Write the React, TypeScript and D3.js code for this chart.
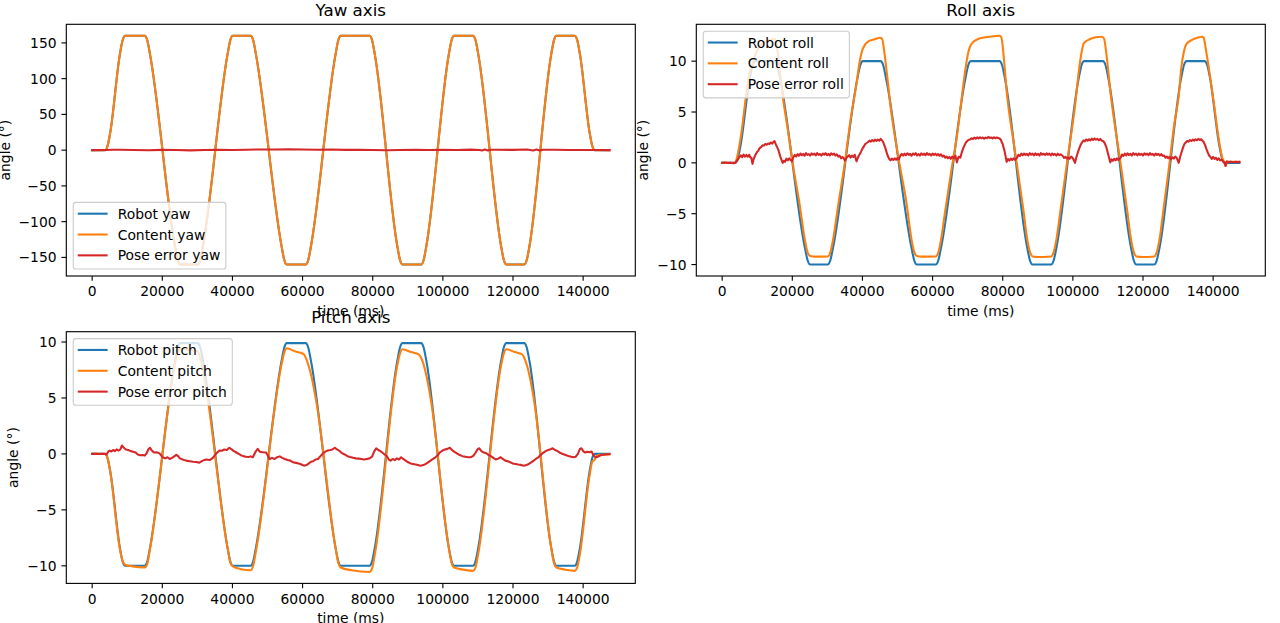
import React from 'react';
import * as d3 from 'd3';

type Pt = [number, number];

// ---------- tick labels ----------
const xTicks = [0, 20000, 40000, 60000, 80000, 100000, 120000, 140000];
const yawTicks = [-150, -100, -50, 0, 50, 100, 150];
const rollTicks = [-10, -5, 0, 5, 10];
const pitchTicks = [-10, -5, 0, 5, 10];

// ---------- series names ----------
const yawLabels = ['Robot yaw', 'Content yaw', 'Pose error yaw'];
const rollLabels = ['Robot roll', 'Content roll', 'Pose error roll'];
const pitchLabels = ['Robot pitch', 'Content pitch', 'Pose error pitch'];
const titles = ['Yaw axis', 'Roll axis', 'Pitch axis'];
const xLabel = 'time (ms)';
const yLabel = 'angle (°)';

// ---------- yaw ----------
const yawRobot: Pt[] = [
  [0, 0], [3700, 0], [4400, 6], [5200, 26], [7900, 134], [8700, 154], [9400, 160],
  [15000, 160], [15700, 154], [16500, 134], [23600, -134], [24400, -154], [25100, -160],
  [30100, -160], [30800, -154], [31600, -134], [38600, 134], [39400, 154], [40100, 160],
  [45200, 160], [45900, 154], [46700, 134], [54000, -134], [54800, -154], [55500, -160],
  [60900, -160], [61600, -154], [62400, -134], [69400, 134], [70200, 154], [70900, 160],
  [79100, 160], [79800, 154], [80600, 134], [87000, -134], [87800, -154], [88500, -160],
  [93800, -160], [94500, -154], [95300, -134], [101700, 134], [102500, 154], [103200, 160],
  [108600, 160], [109300, 154], [110100, 134], [116600, -134], [117400, -154], [118100, -160],
  [123200, -160], [123900, -154], [124700, -134], [130900, 134], [131700, 154], [132400, 160],
  [137600, 160], [138300, 154], [139100, 134], [141800, 26], [142600, 6], [143300, 0],
  [147500, 0],
];
const yawContent: Pt[] = [
  [0, 0], [3700, 0], [4400, 6], [5200, 26], [7900, 134], [8700, 154], [9400, 160],
  [15000, 160], [15700, 154], [16500, 134], [23600, -134], [24400, -154], [25100, -160],
  [30100, -160], [30800, -154], [31600, -134], [38600, 134], [39400, 154], [40100, 160],
  [45200, 160], [45900, 154], [46700, 134], [54000, -134], [54800, -154], [55500, -160],
  [60900, -160], [61600, -154], [62400, -134], [69400, 134], [70200, 154], [70900, 160],
  [79100, 160], [79800, 154], [80600, 134], [87000, -134], [87800, -154], [88500, -160],
  [93800, -160], [94500, -154], [95300, -134], [101700, 134], [102500, 154], [103200, 160],
  [108600, 160], [109300, 154], [110100, 134], [116600, -134], [117400, -154], [118100, -160],
  [123200, -160], [123900, -154], [124700, -134], [130900, 134], [131700, 154], [132400, 160],
  [137600, 160], [138300, 154], [139100, 134], [141800, 26], [142600, 6], [143300, 0],
  [147500, 0],
];
const yawError: Pt[] = [
  [0, 0], [3700, 0.1], [6000, 0.5], [8000, 0.6], [12000, 0.3], [16000, -0.2], [20000, 0.4],
  [24000, 0.1], [28000, -0.3], [32000, 0.2], [36000, 0.5], [40000, 0.2], [44000, 0.6],
  [48000, 1.0], [52000, 0.8], [56000, 1.1], [60000, 0.9], [64000, 0.6], [68000, 0.8],
  [72000, 0.4], [76000, 0.6], [80000, 0.3], [84000, -0.2], [88000, 0.1], [92000, 0.4],
  [96000, 0.2], [100000, 0.5], [104000, 0.3], [108000, 0.7], [110500, 0.1], [111200, -0.6],
  [112000, 0.9], [112800, -0.5], [113600, 0.6], [116000, 0.5], [120000, 0.4], [124000, 0.9],
  [125800, -0.4], [126700, 0.8], [127600, -0.5], [128500, 0.6], [132000, 0.5], [136000, 0.3],
  [140000, 0.1], [144000, 0.2], [147500, 0.1],
];

// ---------- roll ----------
const rollRobot: Pt[] = [
  [0, 0], [3700, 0], [4400, 0.375], [5200, 1.625], [7900, 8.375], [8700, 9.625], [9400, 10],
  [15000, 10], [15700, 9.625], [16500, 8.375], [23600, -8.375], [24400, -9.625], [25100, -10],
  [30100, -10], [30800, -9.625], [31600, -8.375], [38600, 8.375], [39400, 9.625], [40100, 10],
  [45200, 10], [45900, 9.625], [46700, 8.375], [54000, -8.375], [54800, -9.625], [55500, -10],
  [60900, -10], [61600, -9.625], [62400, -8.375], [69400, 8.375], [70200, 9.625], [70900, 10],
  [79100, 10], [79800, 9.625], [80600, 8.375], [87000, -8.375], [87800, -9.625], [88500, -10],
  [93800, -10], [94500, -9.625], [95300, -8.375], [101700, 8.375], [102500, 9.625], [103200, 10],
  [108600, 10], [109300, 9.625], [110100, 8.375], [116600, -8.375], [117400, -9.625], [118100, -10],
  [123200, -10], [123900, -9.625], [124700, -8.375], [130900, 8.375], [131700, 9.625], [132400, 10],
  [137600, 10], [138300, 9.625], [139100, 8.375], [141800, 1.625], [142600, 0.375], [143300, 0],
  [147500, 0],
];
const rollContent: Pt[] = [
  [0, 0], [3700, 0.02], [4400, 0.8], [5200, 2.3], [7900, 9.0], [8700, 9.7], [9400, 10.6],
  [10300, 11.3], [11700, 11.8], [13300, 12.05], [14900, 12.2],
  [15500, 11.7], [16300, 9.4], [17260, 6.6], [18700, 3.3], [20200, -0.25], [22000, -3.9],
  [23600, -7.6], [24400, -8.85], [25100, -9.15], [26500, -9.22], [30100, -9.2],
  [30800, -8.85], [31600, -7.6], [33000, -4.37], [35000, 0.06], [36600, 4.2], [38300, 7.8],
  [39140, 9.8], [40080, 11.2], [41500, 11.9], [43500, 12.15], [45000, 12.3],
  [45600, 12.2], [46200, 11.0], [47000, 8.7], [48000, 5.6], [50370, 0.3], [52500, -3.8],
  [54000, -7.55], [54800, -8.8], [55500, -9.15], [57000, -9.22], [60900, -9.2],
  [61600, -8.85], [62400, -7.6], [63400, -5.2], [65600, -0.2], [66900, 2.5], [68100, 5.8],
  [69400, 9.3], [70200, 10.9], [70900, 11.6], [72500, 12.1], [75000, 12.35], [77500, 12.45], [79100, 12.5],
  [79600, 12.35], [80300, 10.4], [81100, 7.15], [83300, 1.6], [84070, -0.2], [86000, -4.9],
  [87000, -7.55], [87800, -8.8], [88500, -9.2], [90000, -9.25], [93800, -9.2],
  [94500, -8.8], [95300, -7.55], [96500, -4.6], [98400, 0.2], [100620, 5.6], [101700, 9.0],
  [102500, 10.9], [103200, 11.8], [104800, 12.15], [106500, 12.35], [108300, 12.4],
  [108900, 12.2], [109600, 10.6], [110700, 7.0], [113500, 0.2], [115500, -4.7], [116600, -7.55],
  [117400, -8.8], [118100, -9.2], [120000, -9.25], [123200, -9.2],
  [123900, -8.8], [124700, -7.55], [126000, -4.15], [127300, -0.75], [129000, 4.0], [130200, 6.6],
  [130900, 9.3], [131700, 11.0], [132400, 11.7], [134000, 12.1], [135500, 12.3], [136800, 12.4],
  [137300, 12.3], [138000, 11.0], [139000, 8.8], [140200, 5.9], [141800, 1.9], [142600, 0.5],
  [143300, 0.0], [143550, -0.3], [144000, 0.1], [147500, 0.1],
];
const rollError: Pt[] = [
  [0, 0], [800, 0.03], [1600, -0.02], [2400, 0.02], [3200, -0.03], [3700, 0.02], [4200, 0.2],
  [4600, 0.42], [5000, 0.6], [5300, 0.75], [5700, 0.55], [6100, 0.82], [6500, 0.62], [6900, 0.78],
  [7300, 0.6], [7700, 0.8], [8000, 0.55], [8300, 0.5], [8650, -0.1], [9000, 0.4], [9500, 0.8],
  [9900, 1.05], [10300, 1.2], [10700, 1.45], [11100, 1.55], [11500, 1.72], [11900, 1.7],
  [12300, 1.85], [12700, 1.78], [13100, 1.9], [13500, 1.85], [13900, 2.0], [14300, 1.9],
  [14600, 2.05], [14900, 2.15], [15400, 1.75], [16000, 1.3], [16600, 0.6], [17260, 0.0],
  [17600, 0.2], [17900, 0.1], [18300, 0.42], [18700, 0.25], [19100, 0.45], [19500, 0.28],
  [19900, 0.15], [20300, 0.55], [20700, 0.78], [21100, 0.62], [21500, 0.85], [21900, 0.7],
  [22300, 0.92], [22700, 0.75], [23100, 0.88], [23500, 0.7], [23900, 0.95], [24300, 0.78],
  [24700, 0.86], [25100, 0.72], [25500, 0.93], [25900, 0.8], [26300, 0.9], [26700, 0.74],
  [27100, 0.96], [27500, 0.79], [27900, 0.87], [28300, 0.72], [28700, 0.92], [29100, 0.8],
  [29500, 0.95], [29900, 0.76], [30300, 0.88], [30700, 0.73], [31100, 0.94], [31500, 0.8],
  [31900, 0.9], [32300, 0.72], [32700, 0.84], [33100, 0.62], [33500, 0.7], [33900, 0.45],
  [34300, 0.58], [34700, 0.42], [35000, 0.22], [35400, 0.48], [35800, 0.62], [36200, 0.76],
  [36600, 0.52], [37000, 0.72], [37400, 0.58], [37800, 0.8], [38300, 0.15], [38800, 0.6],
  [39200, 0.85], [39600, 1.1], [40000, 1.4], [40400, 1.62], [40800, 1.85], [41200, 1.95],
  [41600, 2.05], [42000, 2.18], [42400, 2.08], [42800, 2.25], [43200, 2.12], [43600, 2.28],
  [44000, 2.16], [44400, 2.3], [44800, 2.18], [45200, 2.35], [45600, 2.2], [45900, 2.05],
  [46500, 1.5], [47100, 0.8], [47600, 0.4], [48000, 0.25], [48400, 0.42], [48800, 0.28],
  [49200, 0.45], [49600, 0.3], [50000, 0.48], [50370, 0.35], [50800, 0.7], [51200, 0.88],
  [51600, 0.72], [52000, 0.9], [52400, 0.75], [52800, 0.94], [53200, 0.78], [53600, 0.88],
  [54000, 0.7], [54400, 0.92], [54800, 0.8], [55200, 0.95], [55600, 0.74], [56000, 0.86],
  [56400, 0.72], [56800, 0.93], [57200, 0.79], [57600, 0.9], [58000, 0.75], [58400, 0.96],
  [58800, 0.8], [59200, 0.88], [59600, 0.72], [60000, 0.92], [60400, 0.78], [60800, 0.9],
  [61200, 0.74], [61600, 0.86], [62000, 0.7], [62400, 0.84], [62800, 0.62], [63200, 0.72],
  [63600, 0.5], [64000, 0.62], [64400, 0.45], [64800, 0.58], [65200, 0.4], [65600, 0.62],
  [66000, 0.45], [66500, 0.72], [66920, 0.05], [67400, 0.6], [67900, 0.5], [68300, 1.0],
  [68700, 1.4], [69100, 1.72], [69500, 2.0], [69900, 2.15], [70300, 2.28], [70700, 2.3],
  [71100, 2.42], [71500, 2.35], [71900, 2.48], [72300, 2.38], [72700, 2.5], [73100, 2.4],
  [73500, 2.52], [73900, 2.42], [74300, 2.5], [74700, 2.38], [75100, 2.48], [75500, 2.42],
  [75900, 2.55], [76300, 2.44], [76700, 2.5], [77100, 2.4], [77500, 2.52], [77900, 2.42],
  [78300, 2.5], [78700, 2.45], [79100, 2.4], [79400, 2.3], [79930, 1.9], [80500, 1.2],
  [81110, 0.1], [81500, 0.38], [81900, 0.22], [82300, 0.42], [82700, 0.28], [83100, 0.45],
  [83500, 0.3], [84070, 0.5], [84500, 0.8], [84900, 0.68], [85300, 0.9], [85700, 0.75],
  [86100, 0.92], [86500, 0.78], [86900, 0.88], [87300, 0.72], [87700, 0.95], [88100, 0.8],
  [88500, 0.9], [88900, 0.74], [89300, 0.93], [89700, 0.78], [90100, 0.88], [90500, 0.72],
  [90900, 0.96], [91300, 0.8], [91700, 0.9], [92100, 0.76], [92500, 0.94], [92900, 0.8],
  [93300, 0.9], [93700, 0.74], [94100, 0.92], [94500, 0.78], [94900, 0.88], [95300, 0.72],
  [95700, 0.9], [96100, 0.76], [96500, 0.84], [97070, 0.7], [97500, 0.48], [97900, 0.6],
  [98300, 0.42], [98700, 0.55], [99100, 0.4], [99500, 0.62], [100000, 0.45], [100620, 0.0],
  [101000, 0.55], [101400, 1.0], [101800, 1.4], [102200, 1.75], [102600, 2.0], [103000, 2.2],
  [103400, 2.12], [103800, 2.3], [104200, 2.18], [104600, 2.32], [105000, 2.2], [105400, 2.38],
  [105800, 2.25], [106200, 2.4], [106600, 2.28], [107000, 2.36], [107400, 2.22], [107800, 2.35],
  [108200, 2.2], [108600, 2.15], [109000, 2.0], [109500, 1.6], [110100, 0.8], [110670, 0.05],
  [111000, 0.35], [111400, 0.2], [111800, 0.4], [112200, 0.25], [112600, 0.45], [113000, 0.28],
  [113620, 0.5], [114000, 0.82], [114400, 0.68], [114800, 0.9], [115200, 0.74], [115600, 0.93],
  [116000, 0.78], [116400, 0.88], [116800, 0.72], [117200, 0.95], [117600, 0.8], [118000, 0.9],
  [118400, 0.74], [118800, 0.92], [119200, 0.78], [119600, 0.88], [120000, 0.72], [120400, 0.94],
  [120800, 0.8], [121200, 0.9], [121600, 0.75], [122000, 0.95], [122400, 0.8], [122800, 0.88],
  [123200, 0.72], [123600, 0.92], [124000, 0.78], [124400, 0.88], [124800, 0.72], [125200, 0.86],
  [125600, 0.68], [126040, 0.72], [126400, 0.5], [126800, 0.62], [127200, 0.45], [127600, 0.6],
  [128000, 0.35], [128400, 0.55], [128800, 0.42], [129200, 0.62], [129600, 0.5], [130180, 0.0],
  [130600, 0.6], [131000, 1.05], [131400, 1.5], [131800, 1.85], [132200, 2.0], [132600, 2.15],
  [133000, 2.08], [133400, 2.25], [133800, 2.15], [134200, 2.28], [134600, 2.18], [135000, 2.32],
  [135400, 2.22], [135800, 2.36], [136200, 2.25], [136600, 2.32], [136900, 2.2], [137300, 2.05],
  [137700, 1.75], [138100, 1.35], [138500, 1.0], [138900, 0.7], [139200, 0.6], [139600, 0.4],
  [140000, 0.58], [140400, 0.38], [140800, 0.5], [141200, 0.3], [141600, 0.45], [142000, 0.25],
  [142400, 0.32], [142800, 0.15], [143200, 0.05], [143540, -0.3], [143900, 0.15], [144400, 0.05],
  [145000, 0.12], [145700, 0.06], [146400, 0.1], [147000, 0.07], [147500, 0.1],
];

// ---------- pitch ----------
const pitchRobot: Pt[] = [
  [0, 0], [3700, 0], [4400, -0.375], [5200, -1.625], [7900, -8.375], [8700, -9.625], [9400, -10],
  [15000, -10], [15700, -9.625], [16500, -8.375], [23600, 8.3], [24400, 9.53], [25100, 9.9],
  [30100, 9.9], [30800, 9.53], [31600, 8.3], [38600, -8.375], [39400, -9.625], [40100, -10],
  [45200, -10], [45900, -9.625], [46700, -8.375], [54000, 8.3], [54800, 9.53], [55500, 9.9],
  [60900, 9.9], [61600, 9.53], [62400, 8.3], [69400, -8.375], [70200, -9.625], [70900, -10],
  [79100, -10], [79800, -9.625], [80600, -8.375], [87000, 8.3], [87800, 9.53], [88500, 9.9],
  [93800, 9.9], [94500, 9.53], [95300, 8.3], [101700, -8.375], [102500, -9.625], [103200, -10],
  [108600, -10], [109300, -9.625], [110100, -8.375], [116600, 8.3], [117400, 9.53], [118100, 9.9],
  [123200, 9.9], [123900, 9.53], [124700, 8.3], [130900, -8.375], [131700, -9.625], [132400, -10],
  [137600, -10], [138300, -9.625], [139100, -8.375], [141800, -1.625], [142600, -0.375], [143300, 0],
  [147500, 0],
];
const pitchContent: Pt[] = [
  [0, 0], [3700, 0], [4400, -0.4], [5200, -1.7], [7900, -8.5], [8700, -9.6], [9400, -9.9],
  [11500, -10.05], [15000, -10.15],
  [15700, -9.85], [16500, -8.5], [23600, 8.0], [24400, 9.1], [25100, 9.4], [27500, 9.3], [30100, 9.15],
  [30700, 8.7], [31600, 7.6], [32600, 5.7], [38600, -8.4], [39400, -9.7], [40100, -10.05],
  [42500, -10.3], [45200, -10.4],
  [45900, -10.0], [46700, -8.7], [54000, 8.0], [54800, 9.1], [55500, 9.45], [58000, 9.15],
  [60200, 8.95], [60900, 8.6],
  [61600, 8.0], [62400, 7.1], [63900, 4.7], [69400, -8.4], [70200, -9.75], [70900, -10.15],
  [74000, -10.4], [79100, -10.55],
  [79800, -10.25], [80600, -9.0], [87000, 7.9], [87800, 9.0], [88500, 9.35], [91000, 9.1],
  [93100, 8.9], [93800, 8.6],
  [94500, 8.0], [95300, 7.0], [96600, 4.8], [101700, -8.4], [102500, -9.75], [103200, -10.15],
  [106000, -10.35], [108600, -10.45],
  [109300, -10.15], [110100, -8.9], [116600, 7.9], [117400, 9.0], [118100, 9.35], [120500, 9.1],
  [122600, 8.9], [123200, 8.6],
  [123900, 8.0], [124700, 7.0], [126000, 4.8], [130900, -8.4], [131700, -9.75], [132400, -10.15],
  [135000, -10.35], [137600, -10.45],
  [138300, -10.15], [139100, -8.9], [141800, -2.0], [142600, -0.7], [143200, -0.55],
  [143800, -0.2], [144500, -0.1], [147500, -0.05],
];
const pitchError: Pt[] = [
  [0, 0], [1000, 0.02], [2000, -0.01], [3000, 0.02], [3700, 0.0], [4100, -0.05], [4600, 0.2],
  [5000, 0.3], [5500, 0.22], [6000, 0.35], [6500, 0.25], [7000, 0.4], [7500, 0.3], [8000, 0.38],
  [8500, 0.75], [8900, 0.6], [9600, 0.4], [10300, 0.35], [11000, 0.25], [11700, 0.2],
  [12400, 0.12], [13000, -0.05], [13700, -0.12], [14400, -0.1], [15000, -0.15], [15600, 0.1],
  [16100, 0.45], [16500, 0.55], [17000, 0.3], [17700, 0.12], [18400, 0.15], [19200, 0.05],
  [20100, -0.3], [20800, -0.4], [21500, -0.3], [22100, -0.45], [22800, -0.35], [23500, -0.2],
  [24000, -0.08], [24500, -0.2], [25000, -0.4], [25800, -0.5], [26800, -0.6], [27800, -0.65],
  [28800, -0.7], [29600, -0.72], [30600, -0.78], [31500, -0.6], [32500, -0.5], [33500, -0.55],
  [34400, -0.35], [35400, 0.05], [36300, 0.3], [37000, 0.28], [37700, 0.4], [38400, 0.35],
  [39100, 0.55], [39800, 0.4], [40400, 0.25], [41000, 0.15], [41800, 0.0], [42600, -0.15],
  [43300, -0.22], [43900, -0.25], [44600, -0.28], [45200, -0.22], [45800, -0.3], [46600, 0.2],
  [47200, 0.45], [47800, 0.2], [48600, 0.15], [49600, 0.12], [50200, -0.2], [50600, -0.45],
  [51300, -0.35], [52000, -0.45], [52700, -0.3], [53500, -0.22], [54200, -0.35], [54900, -0.45],
  [55700, -0.55], [56500, -0.6], [57300, -0.75], [58100, -0.8], [58900, -0.85], [59700, -0.95],
  [60400, -1.05], [61100, -1.0], [61800, -0.85], [62400, -0.7], [63000, -0.65], [63700, -0.5],
  [64400, -0.45], [65100, -0.2], [65800, 0.05], [66500, 0.2], [67200, 0.3], [67900, 0.35],
  [68500, 0.4], [69200, 0.55], [69800, 0.4], [70400, 0.3], [71100, 0.1], [72000, -0.05],
  [72800, -0.2], [73600, -0.28], [74400, -0.35], [75200, -0.4], [76000, -0.42], [76800, -0.45],
  [77500, -0.5], [78300, -0.45], [79100, -0.4], [79800, -0.25], [80400, 0.2], [81000, 0.5],
  [81600, 0.35], [82200, 0.25], [82800, 0.1], [83400, -0.05], [84000, -0.2], [84600, -0.5],
  [85100, -0.6], [85700, -0.45], [86300, -0.55], [86900, -0.4], [87500, -0.5], [88100, -0.3],
  [88700, -0.45], [89400, -0.6], [90100, -0.75], [90800, -0.85], [91500, -0.9], [92200, -0.95],
  [92900, -1.0], [93600, -1.05], [94400, -1.0], [95100, -0.9], [95800, -0.75], [96500, -0.6],
  [97200, -0.45], [97900, -0.3], [98600, -0.1], [99200, 0.15], [99900, 0.3], [100600, 0.4],
  [101300, 0.45], [102000, 0.55], [102600, 0.35], [103200, 0.2], [104000, 0.05], [104800, -0.1],
  [105600, -0.2], [106400, -0.25], [107200, -0.3], [107900, -0.3], [108600, -0.2], [109300, 0.1],
  [110000, 0.45], [110400, 0.5], [111000, 0.25], [111700, 0.12], [112400, 0.05], [113100, -0.1],
  [113700, -0.2], [114400, -0.35], [115100, -0.5], [115800, -0.42], [116500, -0.3], [117100, -0.45],
  [117800, -0.6], [118500, -0.65], [119200, -0.75], [119900, -0.85], [120700, -0.9], [121500, -0.95],
  [122300, -0.98], [123100, -1.05], [123800, -1.0], [124500, -0.9], [125200, -0.75], [125900, -0.6],
  [126500, -0.45], [127200, -0.3], [127900, -0.1], [128600, 0.1], [129300, 0.25], [130000, 0.35],
  [130700, 0.42], [131300, 0.5], [132000, 0.35], [132700, 0.25], [133400, 0.1], [134200, 0.0],
  [135000, -0.1], [135800, -0.18], [136600, -0.25], [137300, -0.3], [137900, -0.25], [138500, 0.0],
  [139100, 0.45], [139500, 0.5], [140000, 0.25], [140600, 0.12], [141200, 0.2], [141800, 0.15],
  [142400, 0.22], [143000, -0.15], [143600, -0.3], [144200, -0.25], [144800, -0.15], [145400, -0.1],
  [146200, -0.05], [147500, -0.02],
];

// ---------- styling / layout ----------
const COLORS = ['#1f77b4', '#ff7f0e', '#d62728'];
const FONT = "'DejaVu Sans', 'Liberation Sans', sans-serif";
const FS = 13.889;
const TITLE_FS = 16.667;
const LW = 2.083;
const SPINE_W = 1.111;
const TICK_LEN = 4.861;
const TICK_PAD = 4.861;
const LABEL_PAD = 5.556;
const MARGIN = 0.05;
const PANEL_W = 569;
const PANEL_H = 251.7;
const BOXES = [
  { left: 66.3, top: 24.3 },
  { left: 696.3, top: 24.3 },
  { left: 66.3, top: 331.7 },
];
const LEG = { pad: 6.944, border: 5.556, handle: 27.78, handlePad: 11.11, rowH: 13.889, spacing: 6.944 };

let ctx: CanvasRenderingContext2D | null = null;
function measure(s: string, size: number) {
  if (!ctx) ctx = document.createElement('canvas').getContext('2d');
  if (!ctx) return s.length * size * 0.6;
  ctx.font = `${size}px "DejaVu Sans"`;
  return ctx.measureText(s).width;
}
const fmt = (v: number) => (v < 0 ? '\u2212' + Math.abs(v) : String(v));

type PanelProps = {
  id: string;
  box: { left: number; top: number };
  title: string;
  series: Pt[][];
  labels: string[];
  yTicks: number[];
  legendLoc: 'upper left' | 'lower left';
};

function Panel({ id, box, title, series, labels, yTicks, legendLoc }: PanelProps) {
  const left = box.left, top = box.top;
  const right = left + PANEL_W, bottom = top + PANEL_H;
  const xs = series.flatMap((s) => s.map((p) => p[0]));
  const ys = series.flatMap((s) => s.map((p) => p[1]));
  const [xmin, xmax] = d3.extent(xs) as [number, number];
  const [ymin, ymax] = d3.extent(ys) as [number, number];
  const mx = (xmax - xmin) * MARGIN, my = (ymax - ymin) * MARGIN;
  const x = d3.scaleLinear().domain([xmin - mx, xmax + mx]).range([left, right]);
  const y = d3.scaleLinear().domain([ymin - my, ymax + my]).range([bottom, top]);
  const smooth = d3.line<Pt>().x((d) => x(d[0])).y((d) => y(d[1])).curve(d3.curveMonotoneX);
  const raw = d3.line<Pt>().x((d) => x(d[0])).y((d) => y(d[1]));

  const tickW = Math.max(...yTicks.map((v) => measure(fmt(v), FS)));
  const ylabelX = left - TICK_LEN - TICK_PAD - tickW - LABEL_PAD - 3.3;

  const legTextW = Math.max(...labels.map((l) => measure(l, FS)));
  const legW = LEG.border * 2 + LEG.handle + LEG.handlePad + legTextW;
  const legH = LEG.border * 2 + 3 * LEG.rowH + 2 * LEG.spacing;
  const legX = left + LEG.pad;
  const legY = legendLoc === 'upper left' ? top + LEG.pad : bottom - LEG.pad - legH;

  return (
    <g>
      <defs>
        <clipPath id={`clip-${id}`}>
          <rect x={left} y={top} width={PANEL_W} height={PANEL_H} />
        </clipPath>
      </defs>
      <g clipPath={`url(#clip-${id})`}>
        {series.map((s, i) => (
          <path
            key={i}
            d={(i === 2 ? raw : smooth)(s) || ''}
            fill="none"
            stroke={COLORS[i]}
            strokeWidth={LW}
            strokeLinejoin="round"
            strokeLinecap="square"
          />
        ))}
      </g>
      <rect x={left} y={top} width={PANEL_W} height={PANEL_H} fill="none" stroke="#000" strokeWidth={SPINE_W} />
      {xTicks.map((v) => (
        <g key={'x' + v}>
          <line x1={x(v)} x2={x(v)} y1={bottom} y2={bottom + TICK_LEN} stroke="#000" strokeWidth={SPINE_W} />
          <text x={x(v)} y={bottom + 20.3} textAnchor="middle" fontSize={FS}>{fmt(v)}</text>
        </g>
      ))}
      {yTicks.map((v) => (
        <g key={'y' + v}>
          <line x1={left - TICK_LEN} x2={left} y1={y(v)} y2={y(v)} stroke="#000" strokeWidth={SPINE_W} />
          <text x={left - TICK_LEN - TICK_PAD} y={y(v) + 5} textAnchor="end" fontSize={FS}>{fmt(v)}</text>
        </g>
      ))}
      <text x={(left + right) / 2} y={top - 8.33} textAnchor="middle" fontSize={TITLE_FS}>{title}</text>
      <text x={(left + right) / 2} y={bottom + 39.8} textAnchor="middle" fontSize={FS}>{xLabel}</text>
      <text
        transform={`translate(${ylabelX},${(top + bottom) / 2}) rotate(-90)`}
        textAnchor="middle"
        fontSize={FS}
      >
        {yLabel}
      </text>
      <g>
        <rect x={legX} y={legY} width={legW} height={legH} rx={2.8} ry={2.8}
          fill="#fff" fillOpacity={0.8} stroke="#cccccc" strokeWidth={1.1} />
        {labels.map((l, i) => {
          const cy = legY + LEG.border + LEG.rowH / 2 + i * (LEG.rowH + LEG.spacing) - 1.2;
          const hx = legX + LEG.border;
          return (
            <g key={l}>
              <line x1={hx} x2={hx + LEG.handle} y1={cy} y2={cy} stroke={COLORS[i]} strokeWidth={LW} strokeLinecap="square" />
              <text x={hx + LEG.handle + LEG.handlePad} y={cy + 5} fontSize={FS}>{l}</text>
            </g>
          );
        })}
      </g>
    </g>
  );
}

export default function App() {
  return (
    <svg
      width={1280}
      height={623}
      style={{ position: 'absolute', left: 0, top: 0, display: 'block' }}
      fontFamily={FONT}
    >
      <rect x={0} y={0} width={1280} height={623} fill="#fff" />
      <Panel id="yaw" box={BOXES[0]} title={titles[0]} series={[yawRobot, yawContent, yawError]}
        labels={yawLabels} yTicks={yawTicks} legendLoc="lower left" />
      <Panel id="roll" box={BOXES[1]} title={titles[1]} series={[rollRobot, rollContent, rollError]}
        labels={rollLabels} yTicks={rollTicks} legendLoc="upper left" />
      <Panel id="pitch" box={BOXES[2]} title={titles[2]} series={[pitchRobot, pitchContent, pitchError]}
        labels={pitchLabels} yTicks={pitchTicks} legendLoc="upper left" />
    </svg>
  );
}
